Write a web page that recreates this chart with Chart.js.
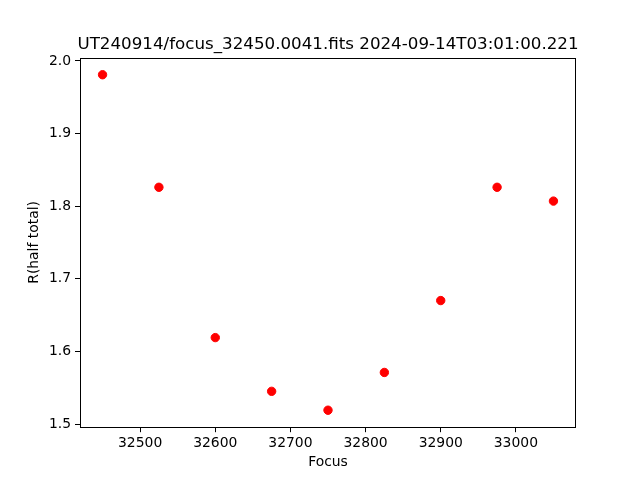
<!DOCTYPE html>
<html>
<head>
<meta charset="utf-8">
<script src="https://cdn.jsdelivr.net/npm/chart.js@4/dist/chart.umd.min.js"></script>
<style>
  html, body { margin: 0; padding: 0; background: #fff; }
  #wrap { width: 640px; height: 480px; }
</style>
</head>
<body>
<div id="wrap"><canvas id="focusChart" width="640" height="480"></canvas></div>
<script>
// focus run values
const focusPositions = [32450, 32525, 32600, 32675, 32750, 32825, 32900, 32975, 33050];
const halfRadius = [1.981, 1.826, 1.619, 1.545, 1.519, 1.571, 1.670, 1.826, 1.807];
const xTicks = [32500, 32600, 32700, 32800, 32900, 33000];
const yTicks = [1.5, 1.6, 1.7, 1.8, 1.9, 2.0];
const chartTitle = 'UT240914/focus_32450.0041.fits 2024-09-14T03:01:00.221';

const FONT = 'DejaVu Sans, sans-serif';

// matplotlib style frame + title over the axes
const framePlugin = {
  id: 'frame',
  afterDraw(chart) {
    const { ctx, chartArea } = chart;
    ctx.save();
    ctx.strokeStyle = '#000';
    ctx.lineWidth = 1;
    ctx.strokeRect(Math.round(chartArea.left) + 0.5, Math.round(chartArea.top) + 0.5,
      Math.round(chartArea.right - chartArea.left) - 1, Math.round(chartArea.bottom - chartArea.top) - 1);
    ctx.fillStyle = '#000';
    ctx.font = '16.7px ' + FONT;
    ctx.textAlign = 'center';
    ctx.textBaseline = 'alphabetic';
    ctx.fillText(chartTitle, (chartArea.left + chartArea.right) / 2, chartArea.top - 8.5);
    ctx.restore();
  }
};

const points = focusPositions.map((x, i) => ({ x: x, y: halfRadius[i] }));

new Chart(document.getElementById('focusChart').getContext('2d'), {
  type: 'scatter',
  data: {
    datasets: [{
      data: points,
      backgroundColor: '#ff0000',
      borderColor: '#ff0000',
      pointRadius: 4.2,
      borderWidth: 1
    }]
  },
  options: {
    responsive: false,
    animation: false,
    layout: { padding: { top: 57.6, right: 64, left: 0, bottom: 0 } },
    plugins: {
      legend: { display: false },
      tooltip: { enabled: false }
    },
    scales: {
      x: {
        type: 'linear',
        min: 32420,
        max: 33080,
        afterBuildTicks: scale => { scale.ticks = xTicks.map(v => ({ value: v })); },
        afterFit: scale => { scale.height = 52.8; },
        ticks: {
          color: '#000',
          font: { family: FONT, size: 13.9 },
          padding: 3,
          maxRotation: 0,
          callback: v => String(v)
        },
        grid: { drawOnChartArea: false, drawTicks: true, tickLength: 5, color: '#000' },
        border: { display: false },
        title: {
          display: true,
          text: 'Focus',
          color: '#000',
          font: { family: FONT, size: 13.9 },
          padding: { top: 0, bottom: 9 }
        }
      },
      y: {
        type: 'linear',
        min: 1.4956,
        max: 2.0046,
        afterBuildTicks: scale => { scale.ticks = yTicks.map(v => ({ value: v })); },
        afterFit: scale => { scale.width = 80; },
        ticks: {
          color: '#000',
          font: { family: FONT, size: 13.9 },
          padding: 4,
          callback: v => Number(v).toFixed(1)
        },
        grid: { drawOnChartArea: false, drawTicks: true, tickLength: 5, color: '#000' },
        border: { display: false },
        title: {
          display: true,
          text: 'R(half total)',
          color: '#000',
          font: { family: FONT, size: 13.9 },
          padding: { top: 26, bottom: 0 }
        }
      }
    }
  },
  plugins: [framePlugin]
});
</script>
</body>
</html>
